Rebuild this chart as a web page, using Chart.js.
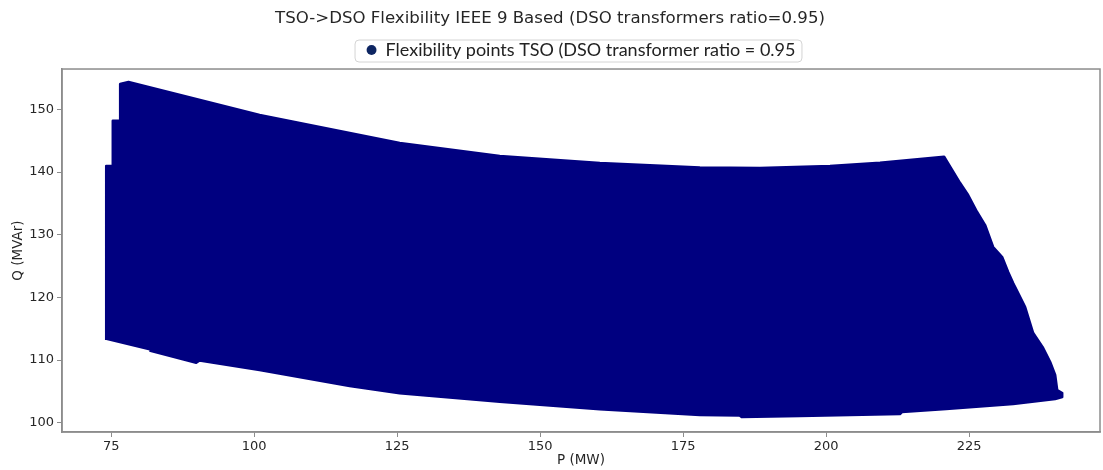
<!DOCTYPE html>
<html><head><meta charset="utf-8">
<script src="https://cdn.jsdelivr.net/npm/chart.js@4.4.1/dist/chart.umd.min.js"></script>
<style>html,body{margin:0;padding:0;background:#fff;}</style>
</head><body>
<canvas id="c" width="1103" height="470"></canvas>
<script>
const chartTitle = 'TSO->DSO Flexibility IEEE 9 Based (DSO transformers ratio=0.95)';
const seriesLabel = 'Flexibility points TSO (DSO transformer ratio = 0.95';
const xTitle = 'P (MW)';
const yTitle = 'Q (MVAr)';
const xTicks = [75, 100, 125, 150, 175, 200, 225];
const yTicks = [100, 110, 120, 130, 140, 150];
// outline of the dense cloud of flexibility points, traced clockwise
const flexP = [74.13, 74.13, 75.28, 75.28, 76.57, 76.57, 78.03, 100.95, 125.45, 142.94, 160.44, 177.94, 188.44, 200.69, 209.44, 216.44, 220.64,
  222.04, 223.44, 224.84, 226.41, 227.81, 229.21, 230.79, 231.84, 232.71, 233.59, 234.81, 236.21, 237.96, 239.19, 240.06, 240.41, 241.29, 241.29,
  240.06, 232.71, 221.0, 213.27, 212.92, 195.42, 185.24, 184.89, 177.94, 160.44, 142.94, 125.45, 116.7, 100.95, 90.45, 89.87, 81.70];
const flexQ = [113.19, 140.95, 140.95, 148.18, 148.18, 154.04, 154.36, 149.09, 144.62, 142.55, 141.43, 140.72, 140.64, 140.95, 141.48, 142.07, 142.44,
  140.32, 138.24, 136.33, 133.62, 131.54, 128.03, 126.44, 124.04, 122.29, 120.69, 118.46, 114.31, 111.92, 109.68, 107.61, 105.22, 104.74, 104.10,
  103.78, 102.98, 102.19, 101.71, 101.39, 101.07, 100.91, 101.15, 101.23, 102.14, 103.35, 104.69, 105.85, 108.41, 109.92, 109.57, 111.52];
const xRange = [66.4, 247.9];
const yRange = [98.52, 156.43];

const axisColor = '#8c8c8c';
const textColor = '#262626';

const framePlugin = {
  id: 'frame',
  afterDraw(chart) {
    const {ctx, chartArea: a} = chart;
    ctx.save();
    ctx.strokeStyle = axisColor;
    ctx.lineWidth = 1.5;
    ctx.strokeRect(a.left, a.top, a.right - a.left, a.bottom - a.top);
    const hb = chart.legend && chart.legend.legendHitBoxes && chart.legend.legendHitBoxes[0];
    if (hb) {
      const x0 = hb.left - 12, x1 = hb.left + hb.width + 6;
      const y0 = hb.top - 1.5, y1 = hb.top + hb.height + 2.5;
      ctx.strokeStyle = '#d4d4d4';
      ctx.lineWidth = 1;
      ctx.beginPath();
      ctx.roundRect(x0 + 0.5, y0 + 0.5, x1 - x0, y1 - y0, 4);
      ctx.stroke();
    }
    ctx.restore();
  }
};

new Chart(document.getElementById('c'), {
  type: 'scatter',
  data: {
    datasets: [{
      label: seriesLabel,
      data: flexP.map((p, i) => ({x: p, y: flexQ[i]})),
      showLine: true,
      fill: 'shape',
      backgroundColor: '#000080',
      borderColor: '#000080',
      borderWidth: 2.5,
      borderJoinStyle: 'round',
      pointRadius: 0,
      pointHoverRadius: 0,
      tension: 0
    }]
  },
  options: {
    responsive: false,
    animation: false,
    events: [],
    layout: {padding: {left: 0, right: 3, top: 0, bottom: 0}},
    plugins: {
      title: {
        display: true,
        text: chartTitle,
        color: textColor,
        font: {family: 'DejaVu Sans', size: 16.6, weight: 'normal'},
        padding: {top: 8.5, bottom: 2.6}
      },
      legend: {
        display: true,
        position: 'top',
        fullSize: false,
        labels: {
          usePointStyle: true,
          pointStyle: 'circle',
          boxWidth: 10,
          boxHeight: 7,
          padding: 10,
          color: '#222',
          font: {family: 'Lato', size: 18},
          generateLabels(chart) {
            const items = Chart.defaults.plugins.legend.labels.generateLabels(chart);
            items.forEach(it => { it.fillStyle = '#0d2562'; it.strokeStyle = '#0d2562'; it.pointStyle = 'circle'; it.lineWidth = 0; });
            return items;
          }
        }
      },
      tooltip: {enabled: false}
    },
    scales: {
      x: {
        type: 'linear',
        min: xRange[0], max: xRange[1],
        afterBuildTicks: s => { s.ticks = xTicks.map(v => ({value: v})); },
        afterFit: s => { s.height = 38; },
        grid: {drawOnChartArea: false, drawTicks: true, tickLength: 5, color: axisColor},
        border: {display: true, color: axisColor, width: 1.5},
        ticks: {font: {family: 'DejaVu Sans', size: 13}, color: textColor, padding: 2, maxRotation: 0, autoSkip: false},
        title: {display: true, text: xTitle, color: textColor, font: {family: 'DejaVu Sans', size: 13.5}, padding: {top: 0, bottom: 1}}
      },
      y: {
        type: 'linear',
        min: yRange[0], max: yRange[1],
        afterBuildTicks: s => { s.ticks = yTicks.map(v => ({value: v})); },
        afterFit: s => { s.width = 62; },
        grid: {drawOnChartArea: false, drawTicks: true, tickLength: 5, color: axisColor},
        border: {display: true, color: axisColor, width: 1.5},
        ticks: {font: {family: 'DejaVu Sans', size: 13}, color: textColor, padding: 3, autoSkip: false},
        title: {display: true, text: yTitle, color: textColor, font: {family: 'DejaVu Sans', size: 13.5}, padding: {top: 10, bottom: 0}}
      }
    }
  },
  plugins: [framePlugin]
});
</script>
</body></html>
